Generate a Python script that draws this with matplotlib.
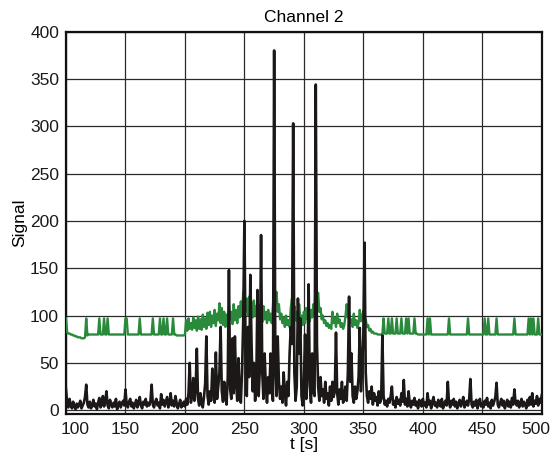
import numpy as np
import matplotlib
matplotlib.use("Agg")
import matplotlib.pyplot as plt
import matplotlib.transforms as mtransforms

plt.rcParams['font.family'] = ['Liberation Sans', 'DejaVu Sans']

t_start = 100
t_end = 500

black_signal = [
    22, 8, 3, 12, 5, 2, 9, 4, 1, 7,
    3, 6, 10, 2, 5, 8, 14, 27, 6, 3,
    9, 2, 5, 11, 4, 7, 1, 8, 13, 3,
    6, 15, 4, 9, 20, 5, 2, 11, 6, 3,
    8, 4, 12, 1, 6, 9, 3, 7, 10, 5,
    22, 6, 3, 9, 12, 4, 8, 2, 6, 11,
    3, 7, 14, 5, 2, 9, 6, 12, 4, 8,
    5, 10, 27, 6, 3, 9, 12, 5, 8, 2,
    17, 6, 11, 4, 9, 14, 3, 7, 18, 5,
    10, 4, 15, 8, 2, 6, 11, 3, 5, 9,
    4, 12, 6, 18, 50, 8, 15, 34, 10, 22,
    65, 12, 5, 18, 9, 3, 14, 28, 78, 15,
    6, 20, 10, 44, 18, 8, 61, 12, 25, 40,
    88, 20, 9, 30, 15, 6, 35, 148, 22, 12,
    76, 18, 78, 30, 10, 55, 20, 8, 40, 95,
    200, 60, 15, 88, 35, 143, 70, 20, 50, 10,
    30, 127, 15, 45, 185, 40, 12, 60, 25, 8,
    35, 18, 60, 20, 10, 380, 45, 15, 78, 30,
    12, 25, 8, 40, 18, 5, 30, 15, 60, 88,
    70, 303, 40, 10, 25, 118, 60, 97, 15, 5,
    30, 80, 12, 40, 133, 25, 8, 60, 20, 15,
    344, 70, 25, 10, 35, 15, 22, 8, 30, 12,
    18, 5, 25, 10, 30, 14, 20, 82, 18, 6,
    22, 12, 30, 8, 15, 25, 10, 40, 120, 30,
    60, 15, 8, 25, 12, 20, 35, 87, 20, 45,
    80, 177, 40, 15, 8, 20, 12, 25, 6, 18,
    10, 14, 5, 20, 8, 12, 79, 15, 6, 10,
    4, 12, 8, 15, 25, 6, 10, 3, 14, 7,
    11, 5, 18, 9, 32, 6, 12, 4, 20, 8,
    3, 10, 6, 13, 5, 9, 2, 11, 7, 4,
    12, 5, 8, 3, 18, 6, 10, 2, 9, 14,
    5, 8, 3, 11, 6, 4, 12, 2, 7, 10,
    5, 30, 8, 3, 10, 6, 12, 4, 9, 2,
    7, 11, 4, 8, 14, 3, 6, 10, 5, 12,
    33, 6, 3, 9, 5, 11, 2, 8, 12, 4,
    7, 3, 10, 6, 13, 4, 8, 2, 11, 5,
    9, 14, 29, 6, 3, 8, 12, 5, 10, 2,
    7, 11, 4, 9, 3, 13, 6, 22, 8, 5,
    10, 3, 7, 12, 4, 9, 6, 2, 11, 5,
    14, 6, 18, 4, 10, 7, 15, 5, 12, 8,
    16,
]

green_signal = [
    97, 82, 81, 81, 80, 80, 79, 79, 78, 78,
    77, 77, 77, 76, 76, 76, 77, 97, 79, 80,
    80, 80, 80, 80, 80, 80, 80, 80, 97, 80,
    80, 80, 97, 80, 80, 97, 80, 80, 80, 80,
    80, 80, 80, 80, 80, 80, 80, 80, 80, 80,
    97, 97, 80, 80, 80, 80, 80, 80, 80, 80,
    80, 80, 97, 80, 80, 80, 80, 80, 80, 80,
    80, 80, 80, 97, 80, 80, 80, 80, 80, 97,
    80, 80, 97, 80, 80, 97, 80, 80, 80, 80,
    97, 80, 80, 79, 79, 79, 79, 79, 79, 79,
    80, 95, 84, 97, 86, 92, 85, 98, 87, 95,
    84, 99, 86, 96, 85, 101, 88, 97, 86, 103,
    90, 104, 88, 100, 92, 106, 89, 102, 95, 113,
    92, 108, 90, 104, 88, 101, 92, 110, 96, 104,
    91, 112, 95, 106, 92, 110, 98, 115, 100, 124,
    128, 104, 118, 100, 120, 102, 114, 98, 116, 100,
    110, 95, 112, 98, 108, 93, 110, 96, 104, 92,
    106, 95, 102, 92, 110, 140, 118, 125, 104, 112,
    96, 102, 92, 98, 88, 100, 90, 95, 88, 108,
    118, 100, 110, 95, 104, 92, 112, 96, 100, 90,
    104, 92, 108, 96, 110, 94, 106, 98, 112, 100,
    140, 118, 124, 104, 108, 96, 100, 92, 95, 89,
    92, 87, 90, 86, 104, 92, 98, 88, 102, 92,
    96, 88, 92, 86, 90, 100, 112, 98, 104, 92,
    96, 88, 102, 90, 95, 87, 92, 106, 94, 98,
    105, 92, 96, 88, 90, 84, 86, 82, 83, 81,
    81, 81, 80, 80, 80, 80, 80, 97, 81, 81,
    81, 97, 81, 81, 97, 81, 81, 81, 97, 81,
    81, 81, 97, 81, 81, 81, 97, 81, 97, 81,
    81, 81, 81, 97, 81, 81, 80, 80, 80, 80,
    80, 80, 80, 80, 97, 80, 97, 80, 80, 80,
    80, 80, 80, 80, 80, 80, 80, 80, 80, 80,
    80, 80, 97, 80, 80, 80, 80, 80, 80, 80,
    80, 80, 80, 80, 80, 80, 80, 80, 97, 80,
    80, 80, 80, 80, 80, 80, 80, 80, 80, 80,
    80, 80, 97, 80, 80, 97, 80, 80, 80, 80,
    80, 80, 97, 80, 80, 80, 80, 80, 80, 80,
    80, 80, 80, 80, 80, 80, 80, 97, 80, 80,
    80, 80, 80, 80, 80, 80, 80, 80, 80, 97,
    80, 97, 80, 97, 80, 80, 80, 97, 80, 80,
    80,
]

x_ticks = [100, 150, 200, 250, 300, 350, 400, 450, 500]
y_ticks = [0, 50, 100, 150, 200, 250, 300, 350, 400]

t = np.arange(t_start, t_start + len(black_signal))
tg = np.arange(t_start, t_start + len(green_signal))

fig = plt.figure(figsize=(5.5, 4.57), dpi=100)
ax = fig.add_axes([0.12, 0.094, 0.865, 0.837])

ax.plot(tg, green_signal, color='#2a8a3c', lw=1.7, zorder=3)
ax.plot(t, black_signal, color='#1c1818', lw=1.9, zorder=4)

ax.set_xlim(t_start, t_end)
ax.set_ylim(-4, 400)
ax.set_xticks(x_ticks)
ax.set_yticks(y_ticks)
ax.grid(True, color='#2a2a2a', lw=0.9, zorder=1)
ax.set_axisbelow(True)
ax.tick_params(length=0, labelsize=12.5, colors='#1a1a1a')
ax.tick_params(axis='y', pad=5)
ax.tick_params(axis='x', pad=6)
for s in ax.spines.values():
    s.set_linewidth(1.6)
    s.set_color('#111111')

# keep outermost x tick labels inside the figure, as in the reference
xlabels = ax.get_xticklabels()
xlabels[0].set_transform(xlabels[0].get_transform() +
                         mtransforms.ScaledTranslation(9 / 100, 0, fig.dpi_scale_trans))
xlabels[-1].set_transform(xlabels[-1].get_transform() +
                          mtransforms.ScaledTranslation(-6 / 100, 0, fig.dpi_scale_trans))

ax.set_title('Channel 2', fontsize=12.5, pad=7)
ax.set_xlabel('t [s]', fontsize=12.5, labelpad=0)
ax.set_ylabel('Signal', fontsize=12.5, labelpad=2)

fig.savefig('out.png', dpi=100)
